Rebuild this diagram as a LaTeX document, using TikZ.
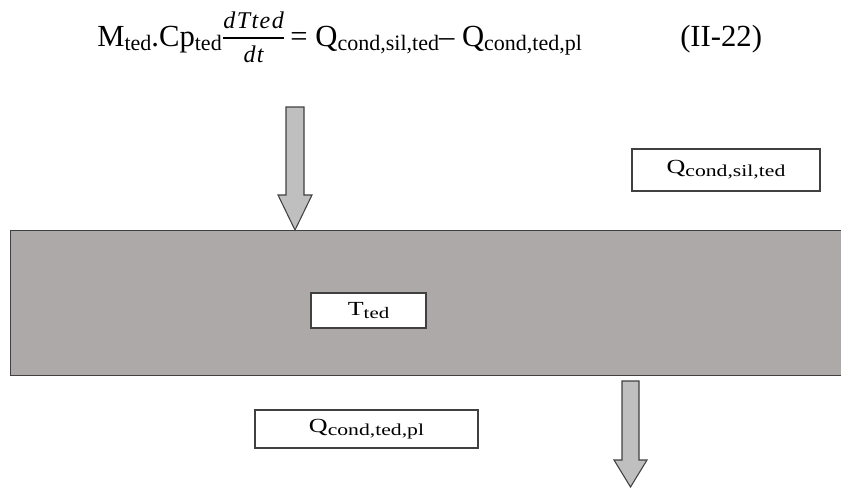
\documentclass[tikz,border=0pt]{standalone}
\usepackage{fontspec}
\setmainfont{Liberation Serif}
\newfontfamily\boxfont[FakeStretch=1.3]{Liberation Serif}
\newfontfamily\fracfont[LetterSpace=6]{Liberation Serif}
\usepackage{amsmath}
\usetikzlibrary{positioning}

\definecolor{slabgray}{HTML}{ADA9A8}
\definecolor{arrowgray}{HTML}{BFBFBF}
\definecolor{edgegray}{HTML}{404040}

% indice abaisse
\newcommand{\lowidx}[2]{\raisebox{-0.3ex}{\fontsize{#1}{#1}\selectfont #2}}
% fraction de la derivee
\newcommand{\derivfrac}[2]{$\genfrac{}{}{1.4pt}{1}%
  {\text{\fracfont\fontsize{18}{18}\selectfont\itshape\rule[-5pt]{0pt}{5pt}#1}}%
  {\text{\fracfont\fontsize{18}{18}\selectfont\itshape\rule{0pt}{16.4pt}#2}}$}

\begin{document}
\begin{tikzpicture}[
    x=0.75pt, y=-0.75pt, % unites en pixels
    eqtext/.style={font=\fontsize{23}{26}\selectfont, inner sep=0pt, anchor=base west},
    labelbox/.style={rectangle, draw=edgegray, line width=1pt, fill=white, inner sep=0pt, font=\boxfont\fontsize{15}{17}\selectfont},
    slab/.style={rectangle, draw=edgegray, line width=1pt, fill=slabgray, anchor=north west, inner sep=0pt},
    blockarrow/.style={draw=edgegray, fill=arrowgray, line width=0.8pt, line join=miter}
]
\useasboundingbox (0,0) rectangle (841,487);

% Equation
\node[eqtext] (eq) at (97,46) {M\lowidx{16.5}{ted}.Cp\lowidx{16.5}{ted}\derivfrac{dTted}{dt}\,= Q\lowidx{16.5}{cond,sil,ted}– Q\lowidx{16.5}{cond,ted,pl}};
\node[eqtext] (eqnum) at (680,46) {(II-22)};

% Couche (plaque)
\node[slab, minimum width=626.25pt, minimum height=108.75pt] (ted) at (10,230) {};

% Etiquettes
\node[labelbox, minimum width=86.25pt, minimum height=26.25pt] (tted) at (368.5,310.5) {T\lowidx{12}{ted}};
\node[labelbox, minimum width=141pt, minimum height=31.5pt] (qsil) at (726,170) {Q\lowidx{12.5}{cond,sil,ted}};
\node[labelbox, minimum width=167.25pt, minimum height=28.5pt] (qpl) at (366.5,429) {Q\lowidx{12.5}{cond,ted,pl}};

% Fleches de flux
\coordinate (inTop) at (295,107);
\coordinate (outTop) at (630.5,381);
\draw[blockarrow] (inTop) ++(-9,0) -- ++(18,0) -- ++(0,88) -- ++(8,0)
    -- (ted.north -| inTop) -- ++(-17,-35) -- ++(8,0) -- cycle;
\draw[blockarrow] (outTop) ++(-8.5,0) -- ++(17,0) -- ++(0,79) -- ++(8,0)
    -- ++(-16.5,27) -- ++(-16.5,-27) -- ++(8,0) -- cycle;

\end{tikzpicture}
\end{document}
